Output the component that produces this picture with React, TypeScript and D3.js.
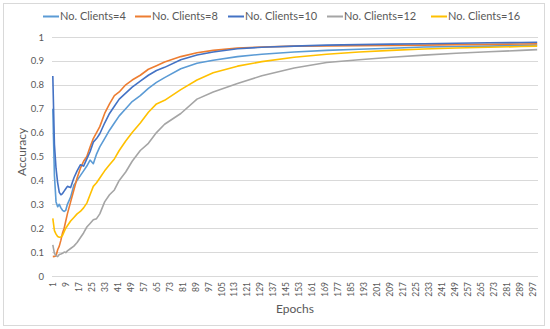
import { useEffect, useRef } from 'react';
import * as d3 from 'd3';

const epochs = [1, 2, 3, 4, 5, 6, 7, 8, 9, 10, 12, 14, 16, 18, 20, 22, 24, 26, 28, 30, 33, 36, 39, 42, 46, 50, 55, 60, 65, 70, 80, 90, 100, 115, 130, 150, 170, 190, 210, 230, 250, 270, 290, 300];

const clients4 = [0.70, 0.42, 0.31, 0.29, 0.30, 0.285, 0.275, 0.27, 0.275, 0.30, 0.33, 0.38, 0.40, 0.42, 0.44, 0.46, 0.485, 0.47, 0.51, 0.54, 0.575, 0.61, 0.64, 0.67, 0.70, 0.73, 0.755, 0.785, 0.81, 0.83, 0.867, 0.89, 0.903, 0.918, 0.928, 0.937, 0.944, 0.949, 0.953, 0.958, 0.96, 0.962, 0.965, 0.966];
const clients8 = [0.081, 0.082, 0.085, 0.11, 0.125, 0.15, 0.18, 0.2, 0.23, 0.26, 0.31, 0.36, 0.41, 0.45, 0.48, 0.50, 0.54, 0.575, 0.60, 0.625, 0.68, 0.72, 0.755, 0.77, 0.80, 0.82, 0.84, 0.865, 0.88, 0.895, 0.918, 0.934, 0.944, 0.954, 0.958, 0.962, 0.963, 0.964, 0.965, 0.966, 0.968, 0.969, 0.971, 0.972];
const clients10 = [0.837, 0.55, 0.45, 0.39, 0.35, 0.34, 0.345, 0.355, 0.365, 0.375, 0.37, 0.41, 0.44, 0.465, 0.46, 0.49, 0.52, 0.56, 0.575, 0.595, 0.64, 0.68, 0.71, 0.74, 0.765, 0.79, 0.815, 0.84, 0.86, 0.873, 0.905, 0.925, 0.937, 0.951, 0.957, 0.962, 0.966, 0.968, 0.97, 0.972, 0.974, 0.976, 0.977, 0.978];
const clients12 = [0.13, 0.095, 0.085, 0.081, 0.09, 0.092, 0.095, 0.10, 0.098, 0.105, 0.115, 0.125, 0.14, 0.16, 0.18, 0.205, 0.22, 0.235, 0.24, 0.26, 0.31, 0.34, 0.36, 0.40, 0.435, 0.48, 0.525, 0.555, 0.6, 0.635, 0.68, 0.74, 0.77, 0.805, 0.838, 0.87, 0.893, 0.905, 0.915, 0.924, 0.932, 0.938, 0.944, 0.947];
const clients16 = [0.241, 0.19, 0.175, 0.165, 0.162, 0.163, 0.17, 0.185, 0.2, 0.21, 0.23, 0.245, 0.26, 0.27, 0.285, 0.305, 0.34, 0.375, 0.39, 0.41, 0.44, 0.465, 0.49, 0.525, 0.565, 0.6, 0.64, 0.685, 0.72, 0.735, 0.78, 0.82, 0.85, 0.878, 0.897, 0.915, 0.928, 0.937, 0.944, 0.95, 0.954, 0.957, 0.96, 0.962];

const seriesNames = ['No. Clients=4', 'No. Clients=8', 'No. Clients=10', 'No. Clients=12', 'No. Clients=16'];
const seriesValues = [clients4, clients8, clients10, clients12, clients16];
const seriesColors = ['#5B9BD5', '#ED7D31', '#4472C4', '#A5A5A5', '#FFC000'];

const yTicks = [0, 0.1, 0.2, 0.3, 0.4, 0.5, 0.6, 0.7, 0.8, 0.9, 1];
const allEpochs = d3.range(1, 301);
const xTickLabels = d3.range(1, 301, 8);

const font = 'Lato, "Open Sans", sans-serif';

function App() {
  const ref = useRef<SVGSVGElement>(null);

  useEffect(() => {
    const svg = d3.select(ref.current);
    svg.selectAll('*').remove();

    const width = 550;
    const height = 329;
    const left = 52, right = 538, top = 37, bottom = 276;

    svg.append('rect')
      .attr('x', 3.5).attr('y', 3.5)
      .attr('width', 541).attr('height', 322)
      .attr('fill', '#fff').attr('stroke', '#D9D9D9');

    const xScale = d3.scalePoint<number>().domain(allEpochs).range([left, right]).padding(0.5);
    const yScale = d3.scaleLinear().domain([0, 1]).range([bottom, top]);

    // gridlines
    svg.append('g')
      .selectAll('line')
      .data(yTicks)
      .join('line')
      .attr('x1', left).attr('x2', right)
      .attr('y1', d => Math.round(yScale(d)) + 0.5)
      .attr('y2', d => Math.round(yScale(d)) + 0.5)
      .attr('stroke', '#D9D9D9').attr('stroke-width', 1);

    // y axis labels
    const yAxis = svg.append('g')
      .attr('transform', `translate(${left}, 0)`)
      .call(d3.axisLeft(yScale).tickValues(yTicks).tickSize(0).tickPadding(8).tickFormat(d3.format('~g')));
    yAxis.select('.domain').remove();
    yAxis.selectAll('text')
      .attr('fill', '#595959').style('font-family', font).style('font-size', '9.5px');

    // x axis labels
    const xAxis = svg.append('g')
      .attr('transform', `translate(0, ${bottom})`)
      .call(d3.axisBottom(xScale).tickValues(xTickLabels).tickSize(0).tickPadding(0));
    xAxis.select('.domain').remove();
    xAxis.selectAll('text')
      .attr('fill', '#595959').style('font-family', font).style('font-size', '8.5px')
      .attr('text-anchor', 'end')
      .attr('dy', '0.32em')
      .attr('transform', 'translate(0, 6) rotate(-90)')
      .attr('x', 0).attr('y', 0);

    const line = d3.line<number>()
      .x((d, i) => xScale(epochs[i]) as number)
      .y(d => yScale(d));

    seriesValues.forEach((vals, s) => {
      svg.append('path')
        .datum(vals)
        .attr('d', line)
        .attr('fill', 'none')
        .attr('stroke', seriesColors[s])
        .attr('stroke-width', 1.6)
        .attr('stroke-linejoin', 'round');
    });

    // legend
    const legendX = [43, 135, 228, 327, 431];
    const legend = svg.append('g');
    seriesNames.forEach((name, s) => {
      legend.append('line')
        .attr('x1', legendX[s]).attr('x2', legendX[s] + 16)
        .attr('y1', 16.5).attr('y2', 16.5)
        .attr('stroke', seriesColors[s]).attr('stroke-width', 2);
      legend.append('text')
        .attr('x', legendX[s] + 17).attr('y', 20)
        .attr('fill', '#595959')
        .style('font-family', font).style('font-size', '11px')
        .text(name);
    });

    svg.append('text')
      .attr('x', 295).attr('y', 313)
      .attr('text-anchor', 'middle')
      .attr('fill', '#595959')
      .style('font-family', font).style('font-size', '12px')
      .text('Epochs');

    svg.append('text')
      .attr('transform', 'translate(26, 152) rotate(-90)')
      .attr('text-anchor', 'middle')
      .attr('fill', '#595959')
      .style('font-family', font).style('font-size', '12px')
      .text('Accuracy');

    svg.attr('width', width).attr('height', height);
  }, []);

  return (
    <svg ref={ref} width={550} height={329} style={{ position: 'absolute', left: 0, top: 0 }} />
  );
}

export default App;
